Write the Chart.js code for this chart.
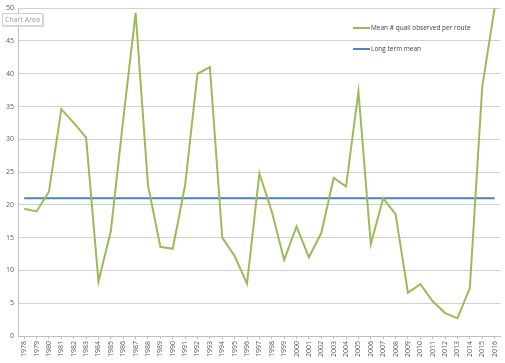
<!DOCTYPE html>
<html>
<head>
<meta charset="utf-8">
<script src="https://cdn.jsdelivr.net/npm/chart.js@4/dist/chart.umd.min.js"></script>
<style>
  body { margin: 0; background: #fff; }
  #wrap { position: relative; width: 505px; height: 363px; }
  #tip {
    position: absolute; left: 2px; top: 13px;
    font: 7px "Open Sans", sans-serif; color: #9a9a9a;
    border: 1px solid #cfcfcf; background: #fff; padding: 1px 2px;
    box-shadow: 1px 1px 1px #ddd;
  }
</style>
</head>
<body>
<div id="wrap">
  <canvas id="myChart" width="505" height="363"></canvas>
  <div id="tip">Chart Area</div>
</div>
<script>
var years = ['1978','1979','1980','1981','1982','1983','1984','1985','1986','1987','1988','1989','1990',
  '1991','1992','1993','1994','1995','1996','1997','1998','1999','2000','2001','2002','2003','2004',
  '2005','2006','2007','2008','2009','2010','2011','2012','2013','2014','2015','2016'];

var quailPerRoute = [19.4, 19.0, 22.0, 34.6, 32.5, 30.3, 8.3, 16.0, 33.0, 49.3, 23.0, 13.6, 13.3,
  23.0, 40.0, 41.0, 15.0, 12.2, 8.0, 24.8, 19.0, 11.6, 16.7, 12.0, 15.7, 24.1, 22.8,
  37.3, 14.0, 21.0, 18.6, 6.6, 7.9, 5.3, 3.5, 2.7, 7.3, 38.0, 50.0];

var longTermMean = years.map(function () { return 21; });

var seriesNames = ['Mean # quail observed per route', 'Long term mean'];
var seriesColors = ['#9bbb59', '#4f81bd'];

// legend sits inside the plot, top right
var insideLegend = {
  id: 'insideLegend',
  afterDraw: function (chart) {
    var ctx = chart.ctx;
    ctx.save();
    ctx.font = '6.5px "Open Sans", sans-serif';
    ctx.textBaseline = 'middle';
    var rows = [28, 49];
    for (var i = 0; i < seriesNames.length; i++) {
      ctx.strokeStyle = seriesColors[i];
      ctx.lineWidth = 2;
      ctx.beginPath();
      ctx.moveTo(353, rows[i]);
      ctx.lineTo(370, rows[i]);
      ctx.stroke();
      ctx.fillStyle = '#404040';
      ctx.fillText(seriesNames[i], 371, rows[i]);
    }
    ctx.restore();
  }
};

var ctx = document.getElementById('myChart').getContext('2d');
var myChart = new Chart(ctx, {
  type: 'line',
  data: {
    labels: years,
    datasets: [{
      label: seriesNames[0],
      data: quailPerRoute,
      borderColor: seriesColors[0],
      borderWidth: 2,
      pointRadius: 0,
      tension: 0,
      fill: false
    }, {
      label: seriesNames[1],
      data: longTermMean,
      borderColor: seriesColors[1],
      borderWidth: 2,
      pointRadius: 0,
      fill: false
    }]
  },
  options: {
    responsive: false,
    animation: false,
    layout: { padding: { top: 4, right: 0, left: 0, bottom: 0 } },
    plugins: {
      legend: { display: false },
      tooltip: { enabled: false }
    },
    scales: {
      x: {
        offset: true,
        grid: { display: true, drawOnChartArea: false, drawTicks: true, tickLength: 3, color: '#bfbfbf' },
        border: { color: '#bfbfbf' },
        ticks: {
          minRotation: 90, maxRotation: 90, autoSkip: false, padding: 2,
          color: '#595959', font: { size: 7, family: '"Open Sans", sans-serif' }
        },
        afterFit: function (scale) { scale.height = 27; }
      },
      y: {
        min: 0, max: 50,
        grid: { color: '#d0d0d0', drawTicks: false },
        border: { color: '#bfbfbf' },
        ticks: {
          stepSize: 5, padding: 4,
          color: '#595959', font: { size: 7, family: '"Open Sans", sans-serif' }
        },
        afterFit: function (scale) { scale.width = 18; }
      }
    }
  },
  plugins: [insideLegend]
});
</script>
</body>
</html>
